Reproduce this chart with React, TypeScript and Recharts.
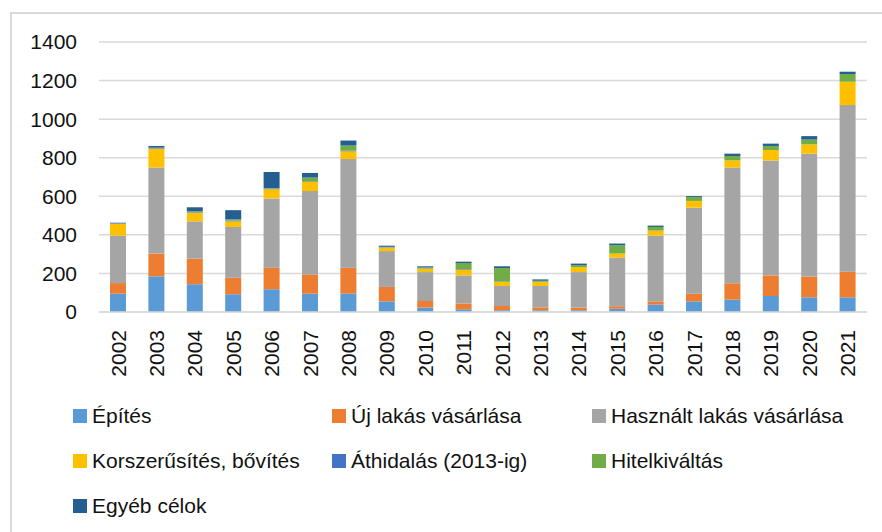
import React from "react";
import { BarChart, Bar, XAxis, YAxis, CartesianGrid } from "recharts";

const years = [
  "2002", "2003", "2004", "2005", "2006", "2007", "2008", "2009", "2010", "2011",
  "2012", "2013", "2014", "2015", "2016", "2017", "2018", "2019", "2020", "2021",
];

const epites = [95, 185, 144, 92, 118, 95, 95, 55, 23, 14, 9, 9, 9, 17, 38, 55, 64, 83, 76, 76];
const ujLakas = [55, 118, 133, 86, 112, 100, 135, 75, 34, 30, 22, 15, 14, 13, 17, 40, 85, 107, 108, 133];
const hasznalt = [246, 446, 193, 263, 359, 432, 563, 186, 150, 146, 104, 111, 184, 252, 341, 446, 600, 596, 637, 864];
const korszerusites = [62, 98, 45, 29, 47, 47, 40, 18, 18, 30, 21, 21, 26, 21, 26, 35, 37, 54, 48, 121];
const athidalas = [3, 3, 3, 4, 3, 3, 3, 2, 2, 3, 2, 1, 0, 0, 0, 0, 0, 0, 0, 0];
const hitelkivaltas = [0, 2, 4, 6, 4, 20, 27, 2, 4, 31, 70, 5, 9, 43, 19, 20, 23, 21, 25, 40];
const egyeb = [2, 9, 21, 48, 83, 24, 26, 6, 6, 7, 9, 7, 9, 9, 7, 5, 12, 12, 18, 12];

const yTicks = [0, 200, 400, 600, 800, 1000, 1200, 1400];

const series = [
  { key: "epites", name: "Építés", color: "#5B9BD5" },
  { key: "ujLakas", name: "Új lakás vásárlása", color: "#ED7D31" },
  { key: "hasznalt", name: "Használt lakás vásárlása", color: "#A5A5A5" },
  { key: "korszerusites", name: "Korszerűsítés, bővítés", color: "#FFC000" },
  { key: "athidalas", name: "Áthidalás (2013-ig)", color: "#4472C4" },
  { key: "hitelkivaltas", name: "Hitelkiváltás", color: "#70AD47" },
  { key: "egyeb", name: "Egyéb célok", color: "#255E91" },
];

const data = years.map((year, i) => ({
  year,
  epites: epites[i],
  ujLakas: ujLakas[i],
  hasznalt: hasznalt[i],
  korszerusites: korszerusites[i],
  athidalas: athidalas[i],
  hitelkivaltas: hitelkivaltas[i],
  egyeb: egyeb[i],
}));

const FONT = '"Liberation Sans", Arial, sans-serif';
const TEXT = "#111";

const YearTick = ({ x, y, payload }: any) => {
  const ty = y + 18;
  return (
    <text
      x={x}
      y={ty}
      dy="0.35em"
      transform={`rotate(-90, ${x}, ${ty})`}
      textAnchor="end"
      fontSize={21}
      fontFamily={FONT}
      fill={TEXT}
    >
      {payload.value}
    </text>
  );
};

// legend columns / rows (px)
const legendCols = [73, 332, 592];
const legendRows = [416, 461, 506];

export default function App() {
  return (
    <div
      style={{
        position: "absolute",
        left: 0,
        top: 0,
        width: 882,
        height: 532,
        background: "#fff",
        overflow: "hidden",
        fontFamily: FONT,
      }}
    >
      <div
        style={{
          position: "absolute",
          left: 10,
          top: 12,
          width: 880,
          height: 530,
          border: "2px solid #d9d9d9",
          boxSizing: "border-box",
        }}
      />
      <div style={{ position: "absolute", left: 0, top: 0 }}>
        <BarChart
          width={882}
          height={390}
          data={data}
          margin={{ top: 42, right: 15, left: 0, bottom: 0 }}
        >
          <CartesianGrid vertical={false} stroke="#d9d9d9" strokeWidth={1.5} />
          <XAxis
            dataKey="year"
            height={78}
            axisLine={{ stroke: "#d9d9d9", strokeWidth: 1.5 }}
            tickLine={false}
            tickSize={0}
            tickMargin={0}
            interval={0}
            tick={<YearTick />}
          />
          <YAxis
            width={99}
            domain={[0, 1400]}
            ticks={yTicks}
            axisLine={false}
            tickLine={false}
            tickSize={0}
            tickMargin={22}
            tick={{ fontSize: 21, fontFamily: FONT, fill: TEXT }}
          />
          {series.map((s) => (
            <Bar
              key={s.key}
              dataKey={s.key}
              name={s.name}
              stackId="a"
              fill={s.color}
              barSize={16}
              isAnimationActive={false}
            />
          ))}
        </BarChart>
      </div>
      {series.map((s, i) => {
        const col = i % 3;
        const row = Math.floor(i / 3);
        return (
          <div
            key={s.key}
            style={{
              position: "absolute",
              left: legendCols[col],
              top: legendRows[row] - 14,
              height: 28,
              display: "flex",
              alignItems: "center",
              whiteSpace: "nowrap",
            }}
          >
            <span
              style={{
                display: "inline-block",
                width: 14,
                height: 14,
                background: s.color,
                marginRight: 5,
              }}
            />
            <span style={{ fontSize: 21, color: TEXT }}>{s.name}</span>
          </div>
        );
      })}
    </div>
  );
}
